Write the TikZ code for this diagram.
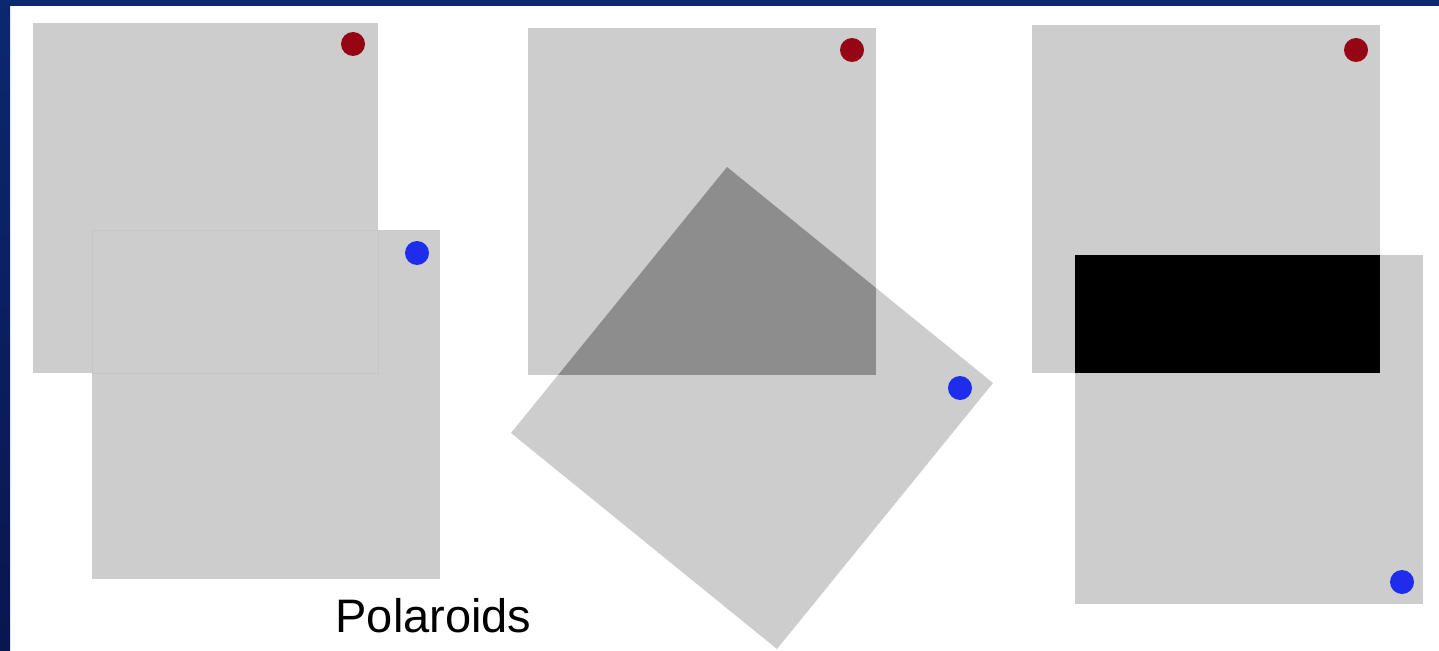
\documentclass[tikz,border=0pt]{standalone}
\usepackage{fontspec}
\setmainfont{Liberation Sans}
\definecolor{sheet}{RGB}{205,205,205}
\definecolor{sheetdark}{RGB}{141,141,141}
\definecolor{sheetedge}{RGB}{197,197,197}
\definecolor{reddot}{RGB}{150,5,20}
\definecolor{bluedot}{RGB}{30,45,235}
\definecolor{navytop}{RGB}{11,40,112}
\definecolor{navybot}{RGB}{10,22,78}
\tikzset{
  polaroid/.style={fill=sheet},
  faintedge/.style={draw=sheetedge, line width=0.8pt},
  dotred/.style={fill=reddot},
  dotblue/.style={fill=bluedot},
  caption/.style={font=\fontsize{47}{50}\selectfont, anchor=base, inner sep=0pt}
}
\begin{document}
\begin{tikzpicture}[x=1pt,y=-1pt]
\useasboundingbox (0,0) rectangle (1439,650);
\fill[white] (0,0) rectangle (1439,650);
% frame
\shade[top color=navytop, bottom color=navybot] (0,0) rectangle (10,650);
\fill[navytop] (0,0) rectangle (1439,6);

% panel 1
\fill[polaroid] (33,23) rectangle (378,373);
\fill[polaroid] (92,230) rectangle (440,579);
\draw[faintedge] (92,373) -- (378,373) -- (378,230);
\draw[faintedge] (92,373) -- (92,230) -- (378,230);
\fill[dotred] (353,44) circle (12);
\fill[dotblue] (417,253) circle (12);

% panel 2
\fill[polaroid] (528,28) rectangle (876,375);
\fill[polaroid] (727,167) -- (993,383) -- (777,649) -- (511,433) -- cycle;
\begin{scope}
  \clip (727,167) -- (993,383) -- (777,649) -- (511,433) -- cycle;
  \fill[sheetdark] (528,28) rectangle (876,375);
\end{scope}
\fill[dotred] (852,50) circle (12);
\fill[dotblue] (960,388) circle (12);

% panel 3
\fill[polaroid] (1032,25) rectangle (1380,373);
\fill[polaroid] (1075,255) rectangle (1423,604);
\fill[black] (1075,255) rectangle (1380,373);
\fill[dotred] (1356,50) circle (12);
\fill[dotblue] (1402,582) circle (12);

\node[caption] (cap) at (433.5,632) {Polaroids};
\end{tikzpicture}
\end{document}
